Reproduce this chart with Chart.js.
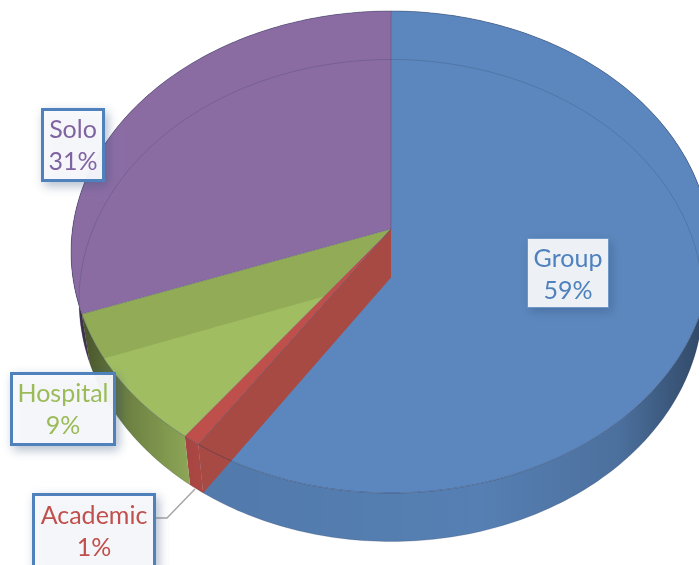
<!DOCTYPE html>
<html>
<head>
<meta charset="utf-8">
<title>Practice type</title>
<script src="https://cdn.jsdelivr.net/npm/chart.js@4/dist/chart.umd.min.js"></script>
<style>
  html, body { margin: 0; padding: 0; background: #fff; }
  canvas { display: block; }
</style>
</head>
<body>
<canvas id="pieChart" width="699" height="565"></canvas>
<script>
// Chart data (estimated from the slice edges, the labels show them rounded)
const categories = ['Group', 'Academic', 'Hospital', 'Solo'];
const shares = [59.4, 0.8, 9.2, 30.6];
const sliceColors = ['#5B87BE', '#BE4F4B', '#A0BD62', '#8A6CA3'];
const textColors = ['#4F81BD', '#C0504D', '#9BBB59', '#8064A2'];

// Label boxes: x, y, w, h, in the order of categories
const labelBoxes = [
  [527, 238, 82, 70],
  [32, 493, 124, 76],
  [10, 372, 106, 74],
  [41, 108, 64, 74]
];
const labelOffsets = [21, 23, 22, 22];

// Perspective of the pie disc
const CX = 391, CY = 229, RX = 318.5, RY = 238.8, TILT = -0.0954;
const DEPTH = 48.5, FLOOR_SCALE = 0.975;

function topPoint(angle, r) {
  const X = r * Math.cos(angle), Y = r * Math.sin(angle);
  const w = 1 + TILT * Y;
  return [CX + RX * X / w, CY + RY * Y / w];
}

function floorPoint(angle, r) {
  const p = topPoint(angle, r);
  return [CX + (p[0] - CX) * FLOOR_SCALE, p[1] + DEPTH];
}

function arcPoints(fn, start, end) {
  const steps = Math.max(2, Math.ceil((end - start) / (Math.PI / 180)));
  const pts = [];
  for (let i = 0; i <= steps; i++) {
    pts.push(fn(start + (end - start) * i / steps, 1));
  }
  return pts;
}

function tracePath(ctx, pts, close) {
  ctx.beginPath();
  pts.forEach((p, i) => i ? ctx.lineTo(p[0], p[1]) : ctx.moveTo(p[0], p[1]));
  if (close) ctx.closePath();
}

function drawLabel(ctx, i) {
  const b = labelBoxes[i];
  const group = i === 0;
  ctx.save();
  ctx.shadowColor = 'rgba(50, 80, 120, 0.4)';
  ctx.shadowBlur = 10;
  ctx.shadowOffsetX = 3;
  ctx.shadowOffsetY = 4;
  ctx.fillStyle = group ? '#EDF1F6' : 'rgba(249, 250, 252, 0.95)';
  ctx.fillRect(b[0], b[1], b[2], b[3]);
  ctx.restore();
  ctx.strokeStyle = group ? '#6E97C8' : '#4F81BD';
  ctx.lineWidth = group ? 1 : 3;
  ctx.strokeRect(b[0] + ctx.lineWidth / 2, b[1] + ctx.lineWidth / 2, b[2] - ctx.lineWidth, b[3] - ctx.lineWidth);
  ctx.fillStyle = textColors[i];
  ctx.font = '25px Lato';
  ctx.textAlign = 'center';
  ctx.textBaseline = 'middle';
  const mid = b[0] + b[2] / 2;
  const top = b[1] + labelOffsets[i];
  ctx.fillText(categories[i], mid, top);
  ctx.fillText(Math.round(shares[i]) + '%', mid, top + 32);
}

const perspectivePie = {
  id: 'perspectivePie',
  beforeDatasetsDraw(chart) {
    const ctx = chart.ctx;
    const arcs = chart.getDatasetMeta(0).data;
    const colors = chart.data.datasets[0].backgroundColor;
    ctx.save();

    // outer wall
    arcs.forEach((arc, i) => {
      const rim = arcPoints(topPoint, arc.startAngle, arc.endAngle)
        .concat(arcPoints(floorPoint, arc.startAngle, arc.endAngle).reverse());
      tracePath(ctx, rim, true);
      ctx.fillStyle = colors[i];
      ctx.fill();
      const shade = ctx.createLinearGradient(70, 0, 700, 0);
      shade.addColorStop(0, 'rgba(0,0,0,0.62)');
      shade.addColorStop(0.1, 'rgba(0,0,0,0.3)');
      shade.addColorStop(0.2, 'rgba(0,0,0,0.1)');
      shade.addColorStop(0.65, 'rgba(0,0,0,0.06)');
      shade.addColorStop(0.87, 'rgba(0,0,0,0.17)');
      shade.addColorStop(1, 'rgba(0,0,0,0.45)');
      ctx.fillStyle = shade;
      ctx.fill();
    });

    // top faces
    arcs.forEach((arc, i) => {
      const face = [[CX, CY]].concat(arcPoints(topPoint, arc.startAngle, arc.endAngle));
      tracePath(ctx, face, true);
      ctx.fillStyle = colors[i];
      ctx.fill();
    });

    // cut wall of Solo showing through Hospital
    const hospital = arcs[2];
    ctx.save();
    tracePath(ctx, [[CX, CY]].concat(arcPoints(topPoint, hospital.startAngle, hospital.endAngle)), true);
    ctx.clip();
    tracePath(ctx, [[CX, CY], topPoint(hospital.endAngle, 1), floorPoint(hospital.endAngle, 1), floorPoint(0, 0)], true);
    ctx.fillStyle = 'rgba(90, 100, 40, 0.2)';
    ctx.fill();
    ctx.restore();

    // cut wall of Group, seen through as dark red
    const academic = arcs[1];
    tracePath(ctx, [[CX, CY], topPoint(academic.startAngle, 1), floorPoint(academic.startAngle, 1), floorPoint(0, 0)], true);
    ctx.fillStyle = '#A84A44';
    ctx.fill();

    // seams and outlines
    arcs.forEach(arc => {
      tracePath(ctx, [[CX, CY], topPoint(arc.startAngle, 1)]);
      ctx.strokeStyle = 'rgba(50, 60, 90, 0.3)';
      ctx.lineWidth = 1;
      ctx.stroke();
    });
    tracePath(ctx, arcPoints(topPoint, 0, Math.PI * 2), true);
    ctx.strokeStyle = 'rgba(40, 50, 80, 0.4)';
    ctx.stroke();
    tracePath(ctx, arcPoints(floorPoint, 0, Math.PI * 2), true);
    ctx.strokeStyle = 'rgba(40, 50, 80, 0.2)';
    ctx.stroke();

    // leader line for the small slice
    const box = labelBoxes[1];
    tracePath(ctx, [[box[0] + box[2], box[1] + 25], [167, box[1] + 25], [195, 489]]);
    ctx.strokeStyle = '#A6A6A6';
    ctx.lineWidth = 1.5;
    ctx.stroke();

    categories.forEach((c, i) => drawLabel(ctx, i));
    ctx.restore();
    return false;
  }
};

new Chart(document.getElementById('pieChart'), {
  type: 'pie',
  data: {
    labels: categories,
    datasets: [{ data: shares, backgroundColor: sliceColors, borderWidth: 0 }]
  },
  options: {
    responsive: false,
    animation: false,
    plugins: {
      legend: { display: false },
      tooltip: { enabled: false }
    }
  },
  plugins: [perspectivePie]
});
</script>
</body>
</html>
